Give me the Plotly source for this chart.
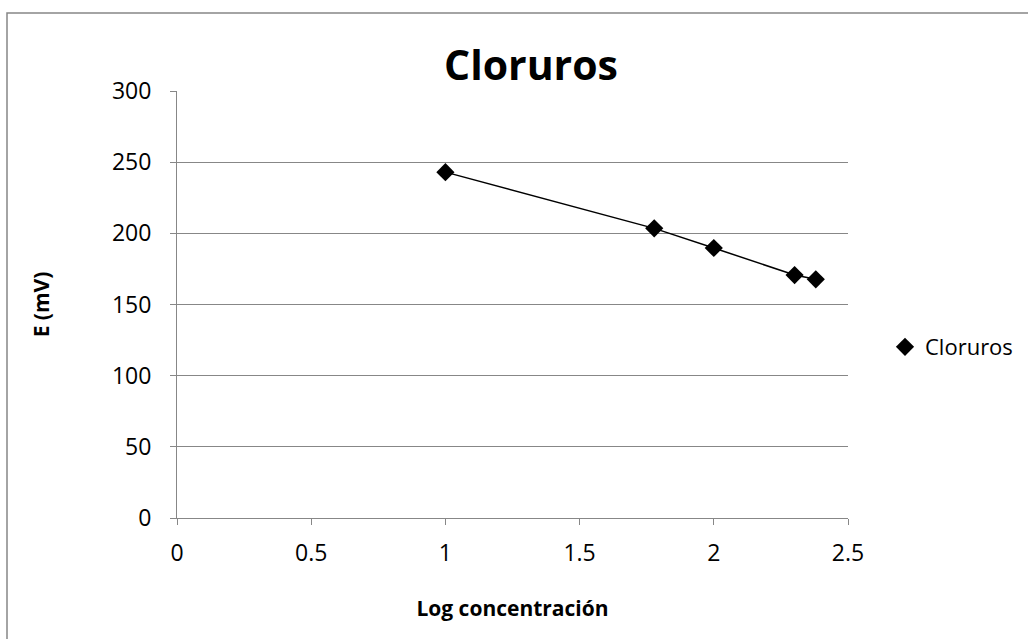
import plotly.graph_objects as go

log_conc = [1.0, 1.778, 2.0, 2.301, 2.380]
e_mv = [243.0, 203.5, 189.7, 170.7, 167.7]
series_name = "Cloruros"
x_ticks = [0, 0.5, 1, 1.5, 2, 2.5]
x_tick_text = ["0", "0.5", "1", "1.5", "2", "2.5"]
y_ticks = [0, 50, 100, 150, 200, 250, 300]

FONT = "Open Sans"
GRID = "#878787"

fig = go.Figure()
fig.add_trace(go.Scatter(x=log_conc, y=e_mv, mode="lines",
                         line=dict(color="black", width=1.5),
                         showlegend=False, hoverinfo="skip"))
fig.add_trace(go.Scatter(x=log_conc, y=e_mv, mode="markers", name=series_name,
                         marker=dict(symbol="diamond", size=14, color="black")))

fig.update_layout(
    width=1028, height=639,
    margin=dict(l=177, r=180, t=91, b=121, autoexpand=False),
    paper_bgcolor="white", plot_bgcolor="white",
    font=dict(family=FONT, color="black", size=22),
    title=dict(text="<b>Cloruros</b>", x=(531 - 177) / 671, xref="paper",
               xanchor="center", y=1 - 66 / 639, yref="container",
               yanchor="middle",
               font=dict(family=FONT, size=41, color="black")),
    legend=dict(x=(885 - 177) / 671, y=(518 - 347) / 427, xanchor="left",
                yanchor="middle", borderwidth=0,
                font=dict(family=FONT, size=22, color="black"),
                bgcolor="rgba(0,0,0,0)"),
    showlegend=True,
)
fig.update_xaxes(range=[0, 2.5], tickvals=x_ticks, ticktext=x_tick_text,
                 showgrid=False, zeroline=False, showline=True, linecolor=GRID,
                 linewidth=1, ticks="outside", ticklen=6, tickcolor=GRID,
                 ticklabelstandoff=8, tickfont=dict(size=23),
                 title=dict(text="<b>Log concentración</b>", standoff=34,
                            font=dict(size=21)))
fig.update_yaxes(range=[0, 300], tickvals=y_ticks,
                 showgrid=True, gridcolor=GRID, gridwidth=1,
                 zeroline=False, showline=True, linecolor=GRID, linewidth=1,
                 ticks="outside", ticklen=6, tickcolor=GRID,
                 ticklabelstandoff=14, tickfont=dict(size=23),
                 title=dict(text="<b>E (mV)</b>", standoff=56,
                            font=dict(size=21)))

fig.add_shape(type="rect", xref="paper", yref="paper",
              x0=(7 - 177) / 671, x1=2.0, y0=-1.0, y1=(518 - 13) / 427,
              line=dict(color="#868686", width=1.5), fillcolor="rgba(0,0,0,0)",
              layer="below")

fig.write_html("out.html")
